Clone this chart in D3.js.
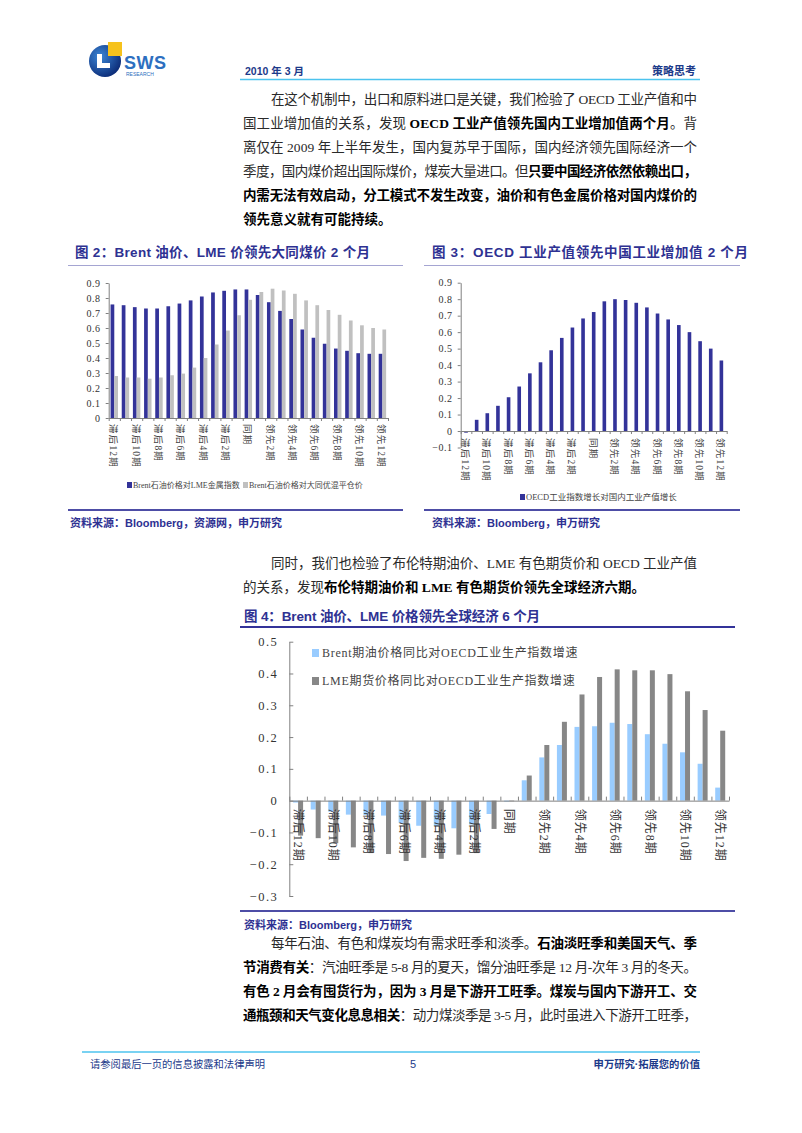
<!DOCTYPE html>
<html><head><meta charset="utf-8">
<script src="https://cdn.jsdelivr.net/npm/d3@7"></script>
<style>
body{margin:0;background:#fff;}
#page{position:relative;width:802px;height:1133px;overflow:hidden;background:#fff;}
</style></head>
<body><div id="page"></div>
<script>
// ---------------- DATA ----------------
const categories = ["滞后12期","滞后11期","滞后10期","滞后9期","滞后8期","滞后7期","滞后6期","滞后5期","滞后4期","滞后3期","滞后2期","滞后1期","同期","领先1期","领先2期","领先3期","领先4期","领先5期","领先6期","领先7期","领先8期","领先9期","领先10期","领先11期","领先12期"];

const fig2BrentLME    = [0.757,0.752,0.739,0.730,0.730,0.745,0.763,0.784,0.810,0.837,0.848,0.857,0.857,0.820,0.772,0.714,0.660,0.590,0.535,0.495,0.463,0.448,0.432,0.428,0.428];
const fig2BrentDatong = [0.280,0.270,0.270,0.262,0.270,0.285,0.296,0.336,0.400,0.490,0.583,0.685,0.788,0.840,0.862,0.850,0.828,0.784,0.752,0.720,0.688,0.650,0.618,0.600,0.590];
const fig2Ticks  = [0,0.1,0.2,0.3,0.4,0.5,0.6,0.7,0.8,0.9];
const fig2Legend = ["Brent石油价格对LME金属指数","Brent石油价格对大同优混平仓价"];

const fig3OECDChina = [-0.010,0.068,0.108,0.153,0.205,0.270,0.350,0.417,0.490,0.565,0.628,0.683,0.722,0.787,0.800,0.795,0.778,0.750,0.713,0.677,0.643,0.600,0.545,0.500,0.428];
const fig3Ticks  = [-0.1,0,0.1,0.2,0.3,0.4,0.5,0.6,0.7,0.8,0.9];
const fig3Legend = ["OECD工业指数增长对国内工业产值增长"];

const fig4BrentOECD = [-0.006,-0.028,-0.035,-0.044,-0.045,-0.047,-0.070,-0.079,-0.080,-0.087,-0.075,-0.042,-0.003,0.064,0.136,0.175,0.232,0.234,0.245,0.241,0.209,0.179,0.152,0.116,0.041];
const fig4LMEOECD   = [-0.110,-0.118,-0.134,-0.147,-0.165,-0.168,-0.190,-0.180,-0.183,-0.170,-0.165,-0.089,-0.002,0.079,0.175,0.248,0.334,0.389,0.413,0.410,0.410,0.398,0.344,0.285,0.220];
const fig4Ticks  = [-0.3,-0.2,-0.1,0,0.1,0.2,0.3,0.4,0.5];
const fig4Legend = ["Brent期油价格同比对OECD工业生产指数增速","LME期货价格同比对OECD工业生产指数增速"];

const titles = ["图 2：Brent 油价、LME 价领先大同煤价 2 个月","图 3：OECD 工业产值领先中国工业增加值 2 个月","图 4：Brent 油价、LME 价格领先全球经济 6 个月"];
const sources = ["资料来源：Bloomberg，资源网，申万研究","资料来源：Bloomberg，申万研究","资料来源：Bloomberg，申万研究"];

// ---------------- SETUP ----------------
const serif = '"Liberation Serif","Noto Sans CJK SC",serif';
const sans  = '"Liberation Sans","Noto Sans CJK SC",sans-serif';
const navy = "#333399";
const svg = d3.select("#page").append("svg").attr("width",802).attr("height",1133)
  .style("position","absolute").style("left",0).style("top",0);
const fmt = d => Math.abs(d) < 1e-9 ? "0" : d3.format(".1f")(d);

// ---------------- HEADER ----------------
const defs = svg.append("defs");
const rg = defs.append("radialGradient").attr("id","lg").attr("cx","35%").attr("cy","35%").attr("r","70%");
rg.append("stop").attr("offset","0%").attr("stop-color","#3b86d6");
rg.append("stop").attr("offset","100%").attr("stop-color","#0c2c78");
svg.append("ellipse").attr("cx",105).attr("cy",61).attr("rx",16).attr("ry",16).attr("fill","url(#lg)");
svg.append("path").attr("d","M97,54 h5 v9 h8 v5 h-13 z").attr("fill","#fff");
svg.append("rect").attr("x",108).attr("y",42).attr("width",14).attr("height",14).attr("fill","#f6c21c");
svg.append("text").attr("x",124).attr("y",69).text("SWS").attr("font-family",sans).attr("font-weight","bold")
  .attr("font-size",18).attr("fill","#2d6fc0").attr("letter-spacing",0.5);
svg.append("text").attr("x",126).attr("y",76).text("RESEARCH").attr("font-family",sans)
  .attr("font-size",5).attr("fill","#2d6fc0");

svg.append("text").attr("x",245).attr("y",75).text("2010 年 3 月").attr("font-family",sans)
  .attr("font-size",10.5).attr("font-weight","bold").attr("fill","#1c3a8a");
svg.append("text").attr("x",696).attr("y",75).attr("text-anchor","end").text("策略思考").attr("font-family",sans)
  .attr("font-size",11).attr("font-weight","bold").attr("fill","#1c3a8a");
svg.append("line").attr("x1",240).attr("x2",700).attr("y1",79.5).attr("y2",79.5).attr("stroke","#4cc3ee").attr("stroke-width",1.5);

// ---------------- PARAGRAPHS ----------------
const TL = 243, TR = 697, IND = 271;
const para1 = [
  {ind:1, full:1, segs:[["在这个机制中，出口和原料进口是关键，我们检验了 OECD 工业产值和中",0]]},
  {ind:0, full:1, segs:[["国工业增加值的关系，发现 ",0],["OECD 工业产值领先国内工业增加值两个月",1],["。背",0]]},
  {ind:0, full:1, segs:[["离仅在 2009 年上半年发生，国内复苏早于国际，国内经济领先国际经济一个",0]]},
  {ind:0, full:1, segs:[["季度，国内煤价超出国际煤价，煤炭大量进口。但",0],["只要中国经济依然依赖出口，",1]]},
  {ind:0, full:1, segs:[["内需无法有效启动，分工模式不发生改变，油价和有色金属价格对国内煤价的",1]]},
  {ind:0, full:0, segs:[["领先意义就有可能持续。",1]]}
];
const para2 = [
  {ind:1, full:1, segs:[["同时，我们也检验了布伦特期油价、LME 有色期货价和 OECD 工业产值",0]]},
  {ind:0, full:0, segs:[["的关系，发现",0],["布伦特期油价和 LME 有色期货价领先全球经济六期。",1]]}
];
const para3 = [
  {ind:1, full:1, segs:[["每年石油、有色和煤炭均有需求旺季和淡季。",0],["石油淡旺季和美国天气、季",1]]},
  {ind:0, full:1, segs:[["节消费有关",1],["：汽油旺季是 5-8 月的夏天，馏分油旺季是 12 月-次年 3 月的冬天。",0]]},
  {ind:0, full:1, segs:[["有色 2 月会有囤货行为，因为 3 月是下游开工旺季。煤炭与国内下游开工、交",1]]},
  {ind:0, full:1, segs:[["通瓶颈和天气变化息息相关",1],["：动力煤淡季是 3-5 月，此时虽进入下游开工旺季，",0]]}
];
function drawPara(lines, y0) {
  lines.forEach((ln, i) => {
    const x = ln.ind ? IND : TL;
    const t = svg.append("text").attr("x", x).attr("y", y0 + i*24 + 5)
      .attr("font-family", serif).attr("font-size", 13.5).attr("fill", "#222");
    ln.segs.forEach(s => {
      t.append("tspan").text(s[0]).attr("font-weight", s[1] ? "bold" : "normal").attr("fill", s[1] ? "#000" : "#2a2a2a");
    });
    if (ln.full) t.attr("textLength", TR - x).attr("lengthAdjust", "spacing");
  });
}
drawPara(para1, 99);
drawPara(para2, 563);
drawPara(para3, 943);

// ---------------- helpers ----------------
function titleBlock(text, x, y, len, lx1, lx2, ly, lineColor, lw) {
  svg.append("text").attr("x", x).attr("y", y).text(text).attr("font-family", sans)
    .attr("font-size", 13.5).attr("font-weight", "bold").attr("fill", "#2e3192")
    .attr("textLength", len).attr("lengthAdjust", "spacing");
  svg.append("line").attr("x1", lx1).attr("x2", lx2).attr("y1", ly).attr("y2", ly)
    .attr("stroke", lineColor).attr("stroke-width", lw);
}
function sourceBlock(text, x, y, lx1, lx2, ly) {
  svg.append("line").attr("x1", lx1).attr("x2", lx2).attr("y1", ly).attr("y2", ly)
    .attr("stroke", "#4d4da6").attr("stroke-width", 2);
  svg.append("text").attr("x", x).attr("y", y).text(text).attr("font-family", sans)
    .attr("font-size", 11).attr("font-weight", "bold").attr("fill", "#2e3192");
}
function styleAxis(g, fs, col) {
  g.selectAll("path.domain").attr("stroke", col);
  g.selectAll(".tick line").attr("stroke", col);
  g.selectAll(".tick text").attr("font-family", serif).attr("font-size", fs).attr("fill", "#333");
}

// ---------------- FIGURE 2 ----------------
titleBlock(titles[0], 75, 257, 295, 68, 403, 265.5, "#a5a5d2", 1);
{
  const x = d3.scaleBand().domain(categories).range([108.7, 388]);
  const sub = d3.scaleBand().domain(["a","b"]).range([0, x.bandwidth()]).paddingOuter(0.5);
  const y = d3.scaleLinear().domain([0, 0.9]).range([418, 283]);
  const g = svg.append("g");
  const series = [{k:"a", v:fig2BrentLME, c:navy},{k:"b", v:fig2BrentDatong, c:"#c0c0c0"}];
  series.forEach(s => {
    g.selectAll(null).data(categories).enter().append("rect")
      .attr("x", (d,i) => x(d) + sub(s.k)).attr("width", sub.bandwidth())
      .attr("y", (d,i) => y(s.v[i])).attr("height", (d,i) => y(0) - y(s.v[i]))
      .attr("fill", s.c);
  });
  const ya = g.append("g").attr("transform","translate(108.7,0)")
    .call(d3.axisLeft(y).tickValues(fig2Ticks).tickFormat(fmt).tickSize(3).tickSizeOuter(0).tickPadding(5));
  styleAxis(ya, 10, "#808080");
  ya.selectAll(".tick text").attr("letter-spacing", 0.6);
  const xi = d3.scaleLinear().domain([0, 25]).range([108.7, 388]);
  const xa = g.append("g").attr("transform",`translate(0,${y(0)})`)
    .call(d3.axisBottom(xi).tickValues(d3.range(26)).tickFormat("").tickSize(3).tickSizeOuter(0));
  styleAxis(xa, 9, "#808080");
  g.selectAll(null).data(categories.filter((d,i)=>i%2===0)).enter().append("text")
    .attr("transform", d => `translate(${x(d)+x.bandwidth()/2-1},${y(0)+6}) rotate(90)`)
    .attr("dominant-baseline","central").attr("font-family", serif).attr("font-size", 9.5)
    .attr("letter-spacing", 1.2).attr("fill","#444").text(d=>d);
  // legend
  const lg = g.append("g").attr("font-family", serif).attr("font-size", 8).attr("fill","#444");
  const lx = [127, 243], cols = [navy, "#c0c0c0"];
  fig2Legend.forEach((t,i) => {
    lg.append("rect").attr("x", lx[i]).attr("y", 482).attr("width", 5).attr("height", 6).attr("fill", cols[i]);
    lg.append("text").attr("x", lx[i]+6).attr("y", 488).text(t);
  });
}
sourceBlock(sources[0], 70, 527, 68, 403, 510);

// ---------------- FIGURE 3 ----------------
titleBlock(titles[1], 432, 257, 316, 424, 740, 265.5, "#a5a5d2", 1);
{
  const x = d3.scaleBand().domain(categories).range([460.7, 726.7]).paddingInner(0.66).paddingOuter(0.33);
  const y = d3.scaleLinear().domain([-0.1, 0.9]).range([447.5, 282.7]);
  const g = svg.append("g");
  g.selectAll(null).data(categories).enter().append("rect")
    .attr("x", d => x(d)).attr("width", x.bandwidth())
    .attr("y", (d,i) => y(Math.max(0, fig3OECDChina[i])))
    .attr("height", (d,i) => Math.abs(y(fig3OECDChina[i]) - y(0)))
    .attr("fill", navy);
  const ya = g.append("g").attr("transform","translate(460.7,0)")
    .call(d3.axisLeft(y).tickValues(fig3Ticks).tickFormat(fmt).tickSize(3).tickSizeOuter(0).tickPadding(5));
  styleAxis(ya, 10, "#808080");
  ya.selectAll(".tick text").attr("letter-spacing", 0.6);
  const xi = d3.scaleLinear().domain([0, 25]).range([460.7, 726.7]);
  const xa = g.append("g").attr("transform",`translate(0,${y(0)})`)
    .call(d3.axisBottom(xi).tickValues(d3.range(26)).tickFormat("").tickSize(3).tickSizeOuter(0));
  styleAxis(xa, 9, "#808080");
  g.selectAll(null).data(categories.filter((d,i)=>i%2===0)).enter().append("text")
    .attr("transform", d => `translate(${x(d)+x.bandwidth()/2-1},${y(0)+7}) rotate(90)`)
    .attr("dominant-baseline","central").attr("font-family", serif).attr("font-size", 9.5)
    .attr("letter-spacing", 1.2).attr("fill","#444").text(d=>d);
  const lg = g.append("g").attr("font-family", serif).attr("font-size", 8.5).attr("fill","#444");
  lg.append("rect").attr("x", 520).attr("y", 494).attr("width", 5).attr("height", 6).attr("fill", navy);
  lg.append("text").attr("x", 526).attr("y", 500).text(fig3Legend[0]);
}
sourceBlock(sources[1], 432, 527, 424, 740, 510);

// ---------------- FIGURE 4 ----------------
titleBlock(titles[2], 244, 621, 296, 240, 735, 627, "#333399", 2);
{
  const x = d3.scaleBand().domain(categories).range([289.3, 729]);
  const sub = d3.scaleBand().domain(["a","b"]).range([0, x.bandwidth()]).paddingOuter(0.76);
  const y = d3.scaleLinear().domain([-0.3, 0.5]).range([896, 641.7]);
  const g = svg.append("g");
  const series = [{k:"a", v:fig4BrentOECD, c:"#99ccff"},{k:"b", v:fig4LMEOECD, c:"#878787"}];
  series.forEach(s => {
    g.selectAll(null).data(categories).enter().append("rect")
      .attr("x", d => x(d) + sub(s.k)).attr("width", sub.bandwidth())
      .attr("y", (d,i) => y(Math.max(0, s.v[i])))
      .attr("height", (d,i) => Math.max(0.6, Math.abs(y(s.v[i]) - y(0))))
      .attr("fill", s.c);
  });
  const ya = g.append("g").attr("transform","translate(289.3,0)")
    .call(d3.axisLeft(y).tickValues(fig4Ticks).tickFormat(fmt).tickSize(-4).tickSizeOuter(0).tickPadding(11));
  styleAxis(ya, 12.5, "#808080");
  ya.selectAll(".tick text").attr("letter-spacing", 1.5).attr("fill","#333");
  const xi = d3.scaleLinear().domain([0, 25]).range([289.3, 729]);
  const xa = g.append("g").attr("transform",`translate(0,${y(0)})`)
    .call(d3.axisBottom(xi).tickValues(d3.range(26)).tickFormat("").tickSize(-4).tickSizeOuter(0));
  styleAxis(xa, 9, "#808080");
  g.selectAll(null).data(categories.filter((d,i)=>i%2===0)).enter().append("text")
    .attr("transform", d => `translate(${x(d)+x.bandwidth()/2},${y(0)+8}) rotate(90)`)
    .attr("dominant-baseline","central").attr("font-family", serif).attr("font-size", 12)
    .attr("letter-spacing", 1).attr("fill","#333").text(d=>d);
  const lg = g.append("g").attr("font-family", serif).attr("font-size", 12).attr("fill","#444");
  const ly = [653, 681], cols = ["#99ccff", "#878787"];
  fig4Legend.forEach((t,i) => {
    lg.append("rect").attr("x", 312).attr("y", ly[i]-4).attr("width", 7).attr("height", 8).attr("fill", cols[i]);
    lg.append("text").attr("x", 322).attr("y", ly[i]+4).attr("letter-spacing", 0.7).text(t);
  });
}
sourceBlock(sources[2], 244, 929, 240, 735, 911);

// ---------------- FOOTER ----------------
svg.append("line").attr("x1",82).attr("x2",700).attr("y1",1052).attr("y2",1052).attr("stroke","#4cc3ee").attr("stroke-width",1.5);
svg.append("text").attr("x",90).attr("y",1068).text("请参阅最后一页的信息披露和法律声明").attr("font-family",sans)
  .attr("font-size",10.3).attr("fill","#1c3a8a");
svg.append("text").attr("x",413).attr("y",1068).attr("text-anchor","middle").text("5").attr("font-family",sans)
  .attr("font-size",11).attr("fill","#1c3a8a");
svg.append("text").attr("x",700).attr("y",1068).attr("text-anchor","end").text("申万研究·拓展您的价值").attr("font-family",sans)
  .attr("font-size",10.3).attr("font-weight","bold").attr("fill","#1c3a8a");
</script>
</body></html>
